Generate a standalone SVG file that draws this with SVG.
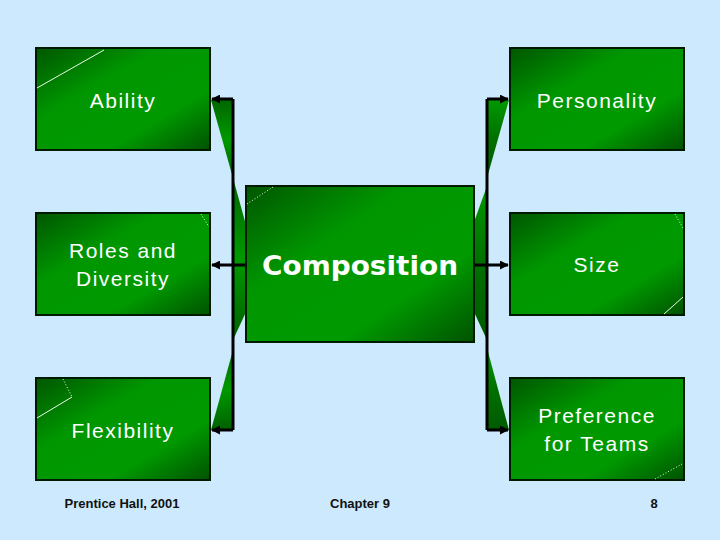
<svg xmlns="http://www.w3.org/2000/svg" width="720" height="540" viewBox="0 0 720 540">
<defs>
<linearGradient id="box" x1="0" y1="0" x2="1" y2="1">
<stop offset="0" stop-color="#005600"/>
<stop offset="0.35" stop-color="#009600"/>
<stop offset="0.7" stop-color="#009a00"/>
<stop offset="1" stop-color="#005200"/>
</linearGradient>
<linearGradient id="wedgeL" x1="0" y1="0" x2="0" y2="1">
<stop offset="0" stop-color="#006600"/>
<stop offset="0.5" stop-color="#009900"/>
<stop offset="1" stop-color="#006000"/>
</linearGradient>
<linearGradient id="wedgeR" x1="0" y1="0" x2="0" y2="1">
<stop offset="0" stop-color="#009900"/>
<stop offset="0.5" stop-color="#007000"/>
<stop offset="1" stop-color="#005a00"/>
</linearGradient>
<marker id="arr" viewBox="0 0 10 10" refX="9" refY="5" markerWidth="3" markerHeight="3" orient="auto" markerUnits="strokeWidth">
<path d="M0,0 L10,5 L0,10 z" fill="#000"/>
</marker>
<style>
.box{fill:url(#box);stroke:#001a00;stroke-width:2}
.lbl{font-family:"Liberation Sans",Arial,sans-serif;font-size:21px;fill:#ffffff;text-anchor:middle;letter-spacing:1.5px}
.big{font-family:"DejaVu Sans",Verdana,sans-serif;font-weight:bold;font-size:27px;fill:#ffffff;text-anchor:middle}
.foot{font-family:"Liberation Sans",Arial,sans-serif;font-size:13px;font-weight:bold;fill:#111;text-anchor:middle}
.con{fill:none;stroke:#000;stroke-width:3}
.dec{fill:none;stroke:#e8ffe8;stroke-width:1}
.dot{fill:none;stroke:#e8ffe8;stroke-width:1;stroke-dasharray:1 2}
</style>
</defs>
<rect width="720" height="540" fill="#cce9fe"/>

<g id="wedges">
<polygon points="211,100 233,100 233,178" fill="url(#wedgeL)"/>
<polygon points="233,178 246,225 246,312 233,340" fill="url(#wedgeL)"/>
<polygon points="233,350 233,430 211,430" fill="url(#wedgeL)"/>
<polygon points="509,100 487,100 487,178" fill="url(#wedgeR)"/>
<polygon points="487,186 474,222 474,312 487,340" fill="url(#wedgeR)"/>
<polygon points="487,348 509,430 487,430" fill="url(#wedgeR)"/>
</g>

<g id="connectors">
<polyline class="con" points="233,99 233,430"/>
<line class="con" x1="233" y1="99" x2="212" y2="99" marker-end="url(#arr)"/>
<line class="con" x1="246" y1="265" x2="212" y2="265" marker-end="url(#arr)"/>
<line class="con" x1="233" y1="430" x2="212" y2="430" marker-end="url(#arr)"/>
<polyline class="con" points="487,99 487,430"/>
<line class="con" x1="487" y1="99" x2="508" y2="99" marker-end="url(#arr)"/>
<line class="con" x1="474" y1="265" x2="508" y2="265" marker-end="url(#arr)"/>
<line class="con" x1="487" y1="430" x2="508" y2="430" marker-end="url(#arr)"/>
</g>

<g id="ability">
<rect class="box" x="36" y="48" width="174" height="102"/>
<line class="dec" x1="37" y1="88" x2="104" y2="50"/>
<text class="lbl" x="123" y="108">Ability</text>
</g>

<g id="personality">
<rect class="box" x="510" y="48" width="174" height="102"/>
<text class="lbl" x="597" y="108">Personality</text>
</g>

<g id="roles">
<rect class="box" x="36" y="213" width="174" height="102"/>
<line class="dot" x1="201" y1="214" x2="209" y2="227"/>
<text class="lbl" x="123" y="258">Roles and</text>
<text class="lbl" x="123" y="286">Diversity</text>
</g>

<g id="composition">
<rect class="box" x="246" y="186" width="228" height="156"/>
<line class="dot" x1="247" y1="204" x2="273" y2="187"/>
<text class="big" x="360" y="275" textLength="196" lengthAdjust="spacingAndGlyphs">Composition</text>
</g>

<g id="size">
<rect class="box" x="510" y="213" width="174" height="102"/>
<line class="dot" x1="675" y1="214" x2="683" y2="228"/>
<line class="dec" x1="664" y1="314" x2="683" y2="297"/>
<text class="lbl" x="597" y="272">Size</text>
</g>

<g id="flexibility">
<rect class="box" x="36" y="378" width="174" height="102"/>
<line class="dot" x1="63" y1="379" x2="72" y2="397"/>
<line class="dec" x1="72" y1="397" x2="37" y2="418"/>
<text class="lbl" x="123" y="438">Flexibility</text>
</g>

<g id="preference">
<rect class="box" x="510" y="378" width="174" height="102"/>
<line class="dot" x1="655" y1="479" x2="682" y2="464"/>
<text class="lbl" x="597" y="423">Preference</text>
<text class="lbl" x="597" y="451">for Teams</text>
</g>

<g id="footer">
<text class="foot" x="122" y="508">Prentice Hall, 2001</text>
<text class="foot" x="360" y="508">Chapter 9</text>
<text class="foot" x="654" y="508">8</text>
</g>
</svg>
